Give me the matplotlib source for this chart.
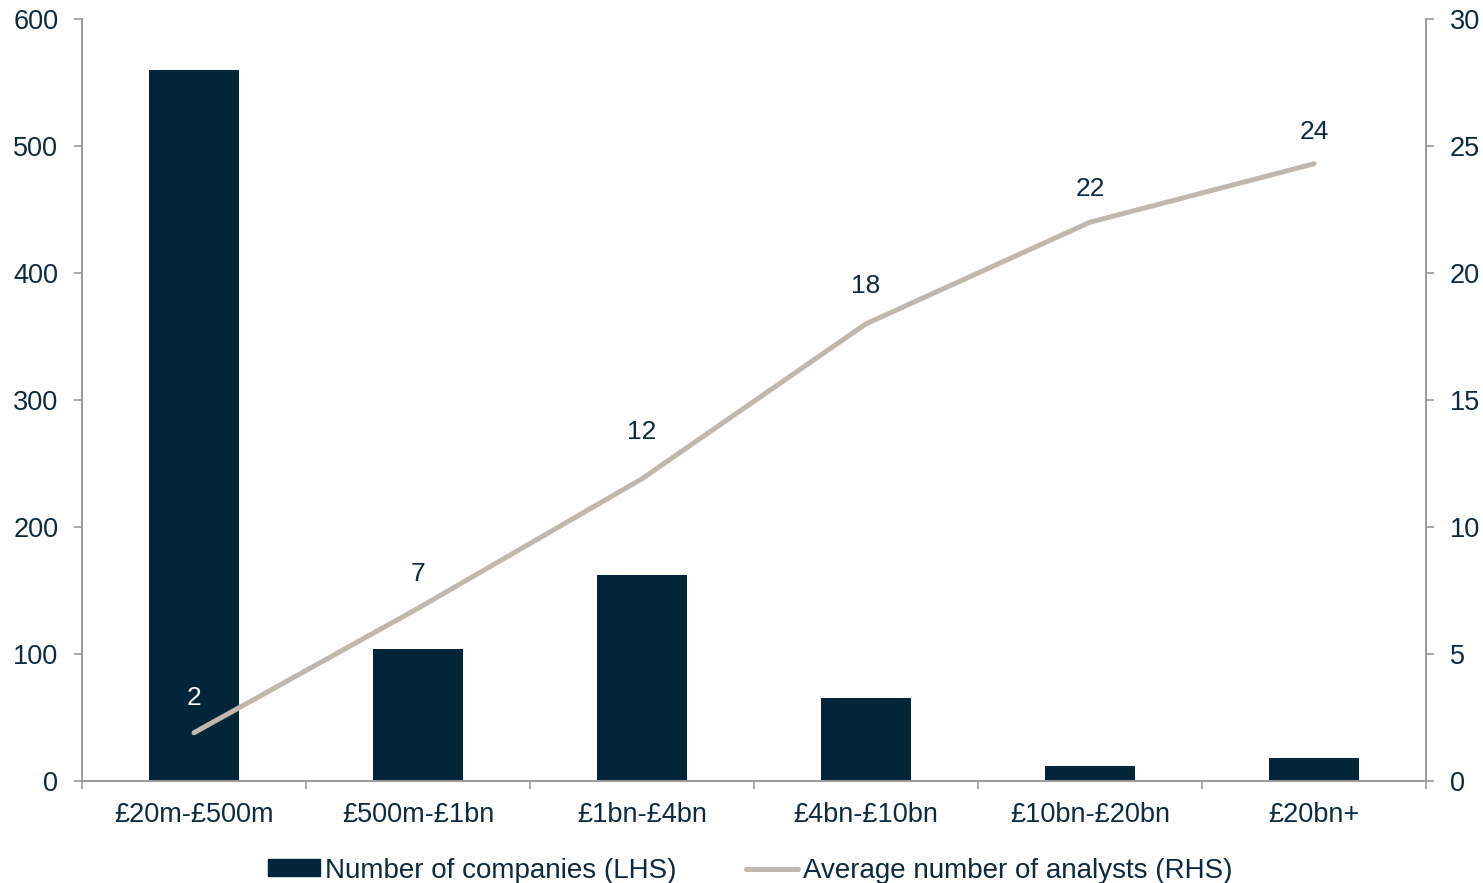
import matplotlib.pyplot as plt
from matplotlib.patches import Patch
from matplotlib.lines import Line2D

plt.rcParams["font.family"] = ["Liberation Sans", "DejaVu Sans"]

NAVY = "#032539"
TEXT = "#0D2A3E"
LINE = "#C0B8AF"
AXIS = "#9A9A9A"

categories = ["£20m-£500m", "£500m-£1bn", "£1bn-£4bn", "£4bn-£10bn", "£10bn-£20bn", "£20bn+"]
companies = [560, 104, 162, 65, 12, 18]
analysts = [1.9, 6.8, 11.9, 18.0, 22.0, 24.3]
analyst_labels = ["2", "7", "12", "18", "22", "24"]

fig = plt.figure(figsize=(14.83, 8.83), dpi=100)
ax = fig.add_axes([0.0553, 0.1155, 0.9063, 0.863])
ax2 = ax.twinx()

x = list(range(len(categories)))
ax.bar(x, companies, width=0.40, color=NAVY, zorder=2)
ax2.plot(x, analysts, color=LINE, lw=3.6, solid_capstyle="round", zorder=3)

# label offsets roughly follow the original placement
offsets = [25, 25, 34, 27, 24, 23]
for i, (v, lab) in enumerate(zip(analysts, analyst_labels)):
    ax2.annotate(lab, (i, v), xytext=(0, offsets[i]), textcoords="offset points",
                 ha="center", va="center", fontsize=19,
                 color="white" if i == 0 else TEXT)

ax.set_xlim(-0.5, 5.5)
ax.set_ylim(0, 600)
ax2.set_ylim(0, 30)
ax.set_yticks(range(0, 601, 100))
ax2.set_yticks(range(0, 31, 5))
ax.set_xticks(x)
ax.set_xticklabels(categories)
ax.set_xticks([i - 0.5 for i in range(len(categories) + 1)], minor=True)
ax.tick_params(axis="x", which="major", length=0, pad=15, labelsize=19.5, labelcolor=TEXT)
ax.tick_params(axis="x", which="minor", length=6, width=1.2, color=AXIS, direction="out")
ax.tick_params(axis="y", length=6, width=1.2, color=AXIS, labelsize=19.5, labelcolor=TEXT, pad=11)
ax2.tick_params(axis="y", length=6, width=1.2, color=AXIS, labelsize=19.5, labelcolor=TEXT, pad=11)

for a in (ax, ax2):
    a.spines["top"].set_visible(False)
    for s in ("left", "right", "bottom"):
        a.spines[s].set_color(AXIS)
        a.spines[s].set_linewidth(1.2)

handles = [Patch(facecolor=NAVY, edgecolor=NAVY),
           Line2D([], [], color=LINE, lw=3.6, solid_capstyle="round")]
labels = ["Number of companies (LHS)", "Average number of analysts (RHS)"]
fig.legend(handles, labels, loc="center", bbox_to_anchor=(0.506, 0.014), ncol=2,
           frameon=False, fontsize=20, labelcolor=TEXT, handlelength=1.87,
           handletextpad=0.18, columnspacing=2.5, handleheight=0.55,
           borderpad=0.1)

fig.savefig("out.png", dpi=100)
